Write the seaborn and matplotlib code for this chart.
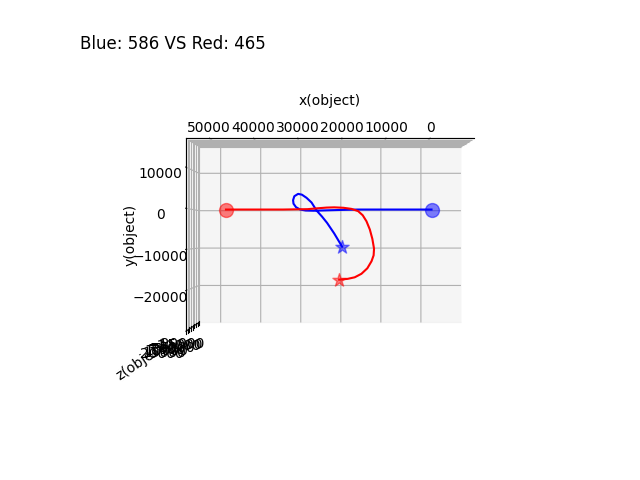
import numpy as np
import seaborn as sns
import matplotlib
matplotlib.use("Agg")
import matplotlib.pyplot as plt

# trajectory points
blue_x = [-1500, 7000, 16100, 20000, 23400, 26600, 28500, 29800, 30800, 31400, 31500, 31200,
          30300, 29400, 28300, 27100, 25900, 24600, 23400, 21700, 19800]
blue_y = [0, 0, 0, -100, -200, -300, -250, 0, 600, 1500, 2400, 3400,
          4000, 3800, 3000, 1800, -250, -1800, -3400, -6100, -9500]
red_x = [47500, 33900, 28000, 25900, 23500, 21700, 19500, 17600, 16000, 14900, 14000, 13200,
         12600, 12200, 12300, 12800, 13800, 15200, 16800, 18500, 20500]
red_y = [0, 0, 100, 300, 500, 560, 450, 170, -400, -1460, -3000, -5100,
         -7500, -10000, -11700, -13200, -15000, -16400, -17300, -17700, -17900]
x_ticks = [50000, 40000, 30000, 20000, 10000, 0]
blue_score = 586
red_score = 465

fig = plt.figure(figsize=(6.4, 4.8))
ax = fig.add_axes([0.125 - 3 / 640, 0.11 + 2.6 / 480, 0.775, 0.77], projection='3d')

bz = np.zeros(len(blue_x))
rz = np.zeros(len(red_x))
ax.plot(blue_x, blue_y, bz, color='blue')
ax.plot(red_x, red_y, rz, color='red')
ax.scatter([blue_x[0]], [blue_y[0]], [0], color='blue', s=100, alpha=0.5)
ax.scatter([red_x[0]], [red_y[0]], [0], color='red', s=100, alpha=0.5)
ax.scatter([blue_x[-1]], [blue_y[-1]], [0], color='blue', marker='*', s=100, alpha=0.5)
ax.scatter([red_x[-1]], [red_y[-1]], [0], color='red', marker='*', s=100, alpha=0.5)

ax.set_xlim(55400, -10000)
ax.set_ylim(-29900, 17000)
ax.set_zlim(-20000, 20000)
ax.set_xticks(x_ticks)
ax.set_xlabel('x(object)')
ax.set_ylabel('y(object)')
ax.set_zlabel('z(object)')
ax.set_box_aspect((4.6, 3.08, 3.18))
ax.view_init(elev=90, azim=-90)
ax.xaxis.set_ticks_position('upper')
ax.xaxis.set_label_position('upper')
ax.yaxis.set_ticks_position('upper')
ax.yaxis.set_label_position('upper')
ax.zaxis.set_ticks_position('lower')
ax.zaxis.set_label_position('lower')

fig.text(0.125, 0.88 + 8.3 / 480, f'Blue: {blue_score} VS Red: {red_score}',
         fontsize=12, ha='left', va='baseline')

plt.savefig('out.png')
